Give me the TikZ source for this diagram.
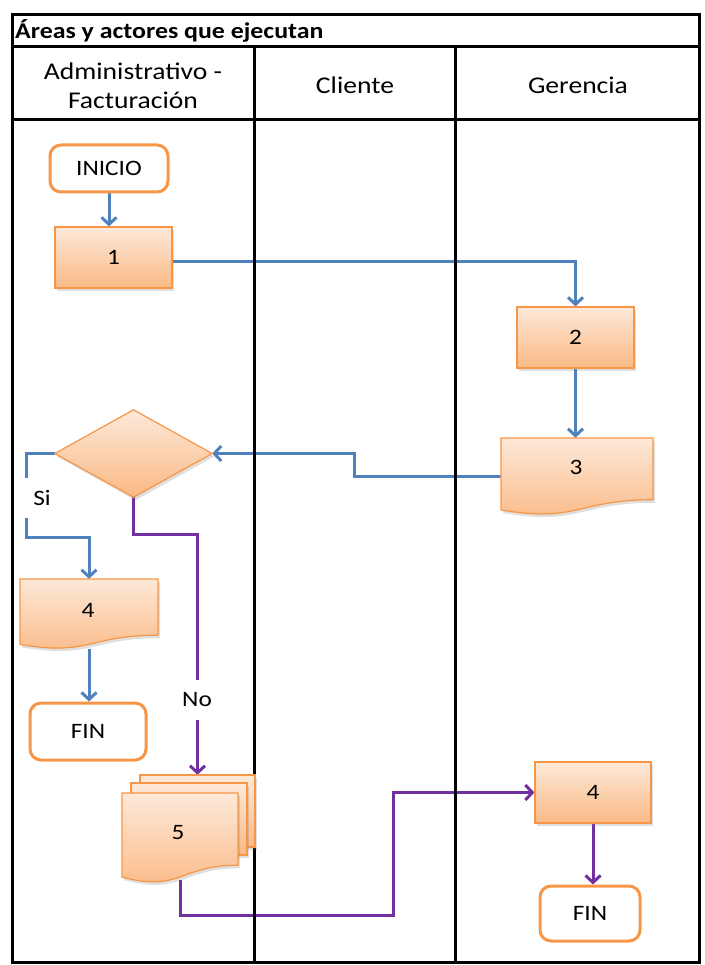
\documentclass[tikz,border=0pt]{standalone}
\usepackage{fontspec}
\setmainfont{Carlito}[FakeStretch=1.15]
\usetikzlibrary{arrows.meta,shadows,calc}

\definecolor{boxline}{HTML}{F79646}
\definecolor{flowblue}{HTML}{4F81BD}
\definecolor{flowpurple}{HTML}{7030A0}
\definecolor{filltop}{HTML}{FDE9D9}
\definecolor{fillbot}{HTML}{FAB985}

\pgfdeclarelayer{bg}
\pgfsetlayers{bg,main}

% document symbol: left x, top y, right x, full height
\newcommand\docshape[4]{%
  \path[proc] (#1,#2) -- (#3,#2) -- (#3,{#2+0.802*#4})
    .. controls ({(#1+#3)/2},{#2+0.802*#4}) and ({(#1+#3)/2},{#2+1.107*#4})
    .. (#1,{#2+0.934*#4}) -- cycle;}

\begin{document}
\begin{tikzpicture}[x=1pt,y=-1pt,
  grid/.style={line width=3pt,black},
  proc/.style={draw=boxline,line width=1.2pt,top color=filltop,bottom color=fillbot,
    drop shadow={shadow xshift=2pt,shadow yshift=-3pt,opacity=0.25}},
  term/.style={draw=boxline,line width=3pt,fill=white,rounded corners=11pt},
  holder/.style={draw=none,inner sep=0pt},
  boxtext/.style={font=\fontsize{22}{26}\selectfont},
  headtext/.style={font=\fontsize{24}{29}\selectfont,align=center},
  blueflow/.style={flowblue,line width=3pt,-{Straight Barb[length=7pt,width=15pt]}},
  purpleflow/.style={flowpurple,line width=3pt,-{Straight Barb[length=7pt,width=15pt]}},
  flowlabel/.style={fill=white,inner sep=0pt,font=\fontsize{22}{26}\selectfont}]

\useasboundingbox (0,0) rectangle (704,965);

% swimlane table
\draw[grid] (12,15) rectangle (699,962);
\draw[grid] (12,47) -- (699,47);
\draw[grid] (12,120) -- (699,120);
\draw[grid] (254,47) -- (254,962);
\draw[grid] (455,47) -- (455,962);

\node[anchor=west,inner sep=0pt,font=\fontsize{22.5}{26}\selectfont\bfseries] (title) at (15,31) {Áreas y actores que ejecutan};
\node[headtext] (h1) at (133,86) {Administrativo -\\Facturación};
\node[headtext] (h2) at (355,85) {Cliente};
\node[headtext] (h3) at (578,85) {Gerencia};

% Administrativo lane: start, task 1, decision, document 4, end
\node[term,boxtext,minimum width=118,minimum height=47] (inicio) at (109,168.5) {INICIO};
\node[proc,boxtext,minimum width=117,minimum height=61] (b1) at (113.5,257.5) {1};

\node[holder,minimum width=157,minimum height=87] (dia) at (133.5,453.5) {};
\path[proc] (dia.west) -- (dia.north) -- (dia.east) -- (dia.south) -- cycle;

\docshape{20}{579}{158}{70}
\node[holder,boxtext,minimum width=138,minimum height=70] (b4a) at (89,614) {};
\node[boxtext] at (88,610) {4};
\node[term,boxtext,minimum width=116,minimum height=57] (fina) at (88,731.5) {FIN};

% stacked documents 5
\path[proc] (140,775) rectangle (255,847);
\node[holder,minimum width=115,minimum height=72] (b5stack) at (197.5,811) {};
\path[proc] (131,783) rectangle (247,855);
\docshape{122}{793}{238}{90}
\node[holder,minimum width=116,minimum height=87] (b5) at (180,836.5) {};
\node[boxtext] at (178,833) {5};

% Gerencia lane: task 2, document 3, task 4, end
\node[proc,boxtext,minimum width=117,minimum height=61] (b2) at (575.5,337.5) {2};
\docshape{501}{438}{653}{77}
\node[holder,minimum width=152,minimum height=77] (b3) at (577,476.5) {};
\node[boxtext] at (576,467) {3};
\node[proc,boxtext,minimum width=116,minimum height=61] (b4b) at (593,792.5) {4};
\node[term,boxtext,minimum width=100,minimum height=55] (finb) at (590,913.5) {FIN};

% connectors
\begin{pgfonlayer}{bg}
\draw[blueflow] (inicio.south) -- (inicio.south |- b1.north);
\draw[blueflow] ([yshift=-4.5pt]b1.east) -| (b2.north);
\draw[blueflow] (b2.south) -- (b2.south |- b3.north);
\draw[blueflow] (b3.west) -- ++(-146,0) |- (dia.east);
\draw[blueflow] (dia.west) -- ++(-28,0) -- ++(0,84) -| (b4a.north);
\draw[blueflow] (b4a.south) -- (b4a.south |- fina.north);
\draw[purpleflow] (dia.south) -- ++(0,37) -| (b5stack.north);
\draw[purpleflow] (b5.south) -- ++(0,35) -| ++(213,-60) |- (b4b.west);
\draw[purpleflow] (b4b.south) -- (b4b.south |- finb.north);
\end{pgfonlayer}

\node[flowlabel,minimum width=40,minimum height=40] (si) at (42,498) {Si};
\node[flowlabel,minimum width=36,minimum height=40] (no) at (197,700) {No};

\end{tikzpicture}
\end{document}
